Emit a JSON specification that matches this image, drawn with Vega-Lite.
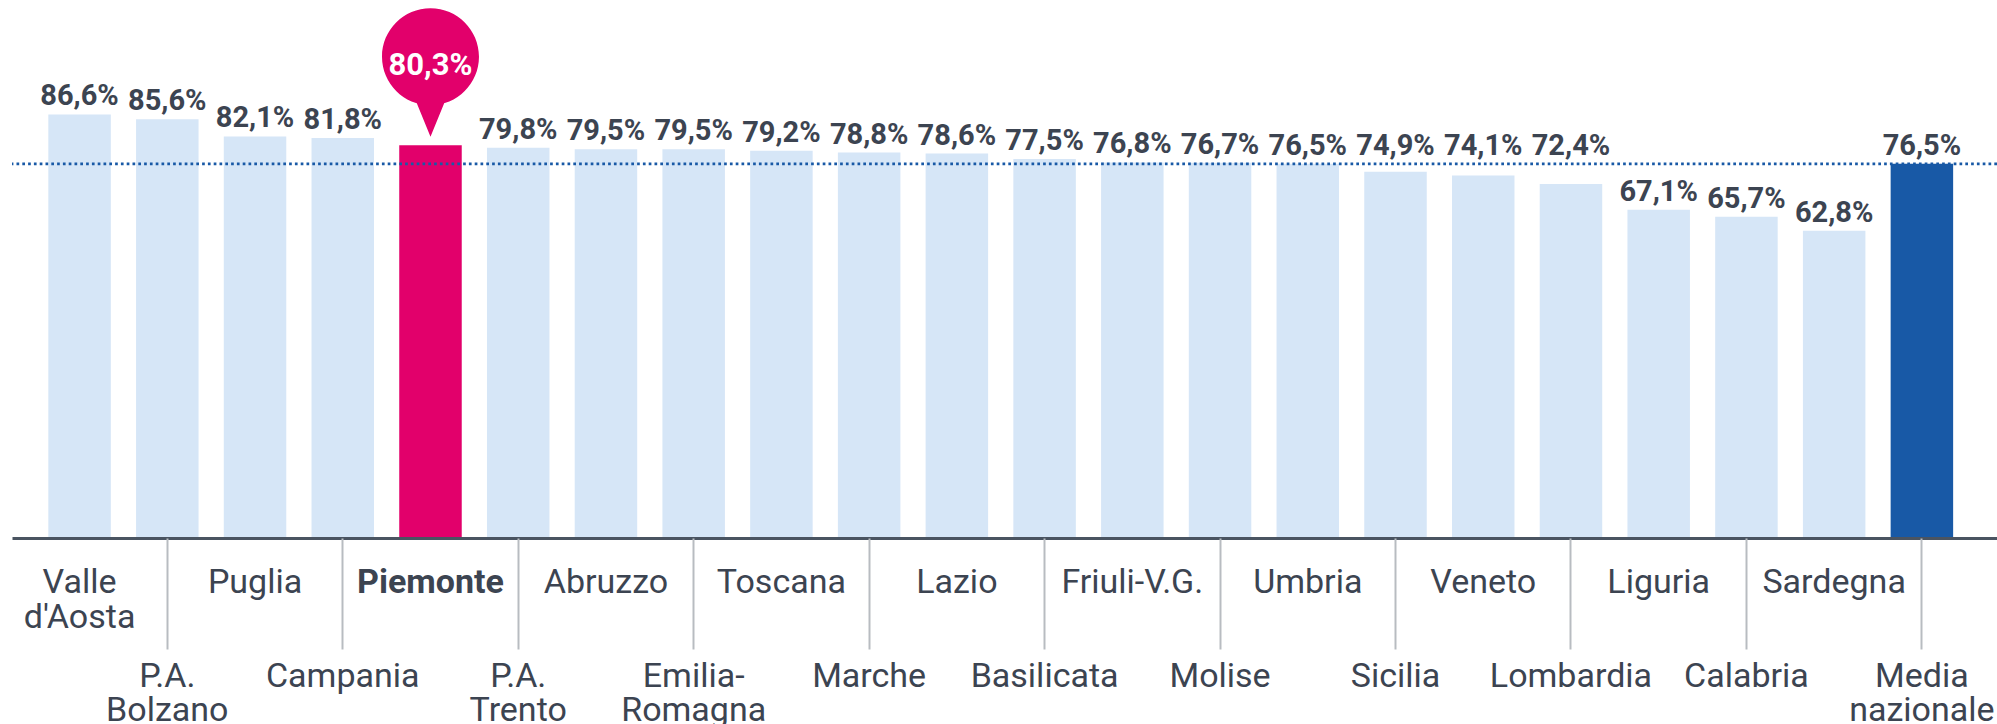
{
  "$schema": "https://vega.github.io/schema/vega-lite/v6.json",
  "width": 1985,
  "height": 538,
  "autosize": {"type": "none"},
  "padding": {"left": 12, "top": 0, "right": 0, "bottom": 186},
  "background": "#ffffff",
  "config": {"view": {"stroke": null}},
  "data": {
    "values": [
      {"regione": "Valle d'Aosta", "valore": 86.6, "label": "86,6%", "gruppo": "regione"},
      {"regione": "P.A. Bolzano", "valore": 85.6, "label": "85,6%", "gruppo": "regione"},
      {"regione": "Puglia", "valore": 82.1, "label": "82,1%", "gruppo": "regione"},
      {"regione": "Campania", "valore": 81.8, "label": "81,8%", "gruppo": "regione"},
      {"regione": "Piemonte", "valore": 80.3, "label": "80,3%", "gruppo": "piemonte"},
      {"regione": "P.A. Trento", "valore": 79.8, "label": "79,8%", "gruppo": "regione"},
      {"regione": "Abruzzo", "valore": 79.5, "label": "79,5%", "gruppo": "regione"},
      {"regione": "Emilia-Romagna", "valore": 79.5, "label": "79,5%", "gruppo": "regione"},
      {"regione": "Toscana", "valore": 79.2, "label": "79,2%", "gruppo": "regione"},
      {"regione": "Marche", "valore": 78.8, "label": "78,8%", "gruppo": "regione"},
      {"regione": "Lazio", "valore": 78.6, "label": "78,6%", "gruppo": "regione"},
      {"regione": "Basilicata", "valore": 77.5, "label": "77,5%", "gruppo": "regione"},
      {"regione": "Friuli-V.G.", "valore": 76.8, "label": "76,8%", "gruppo": "regione"},
      {"regione": "Molise", "valore": 76.7, "label": "76,7%", "gruppo": "regione"},
      {"regione": "Umbria", "valore": 76.5, "label": "76,5%", "gruppo": "regione"},
      {"regione": "Sicilia", "valore": 74.9, "label": "74,9%", "gruppo": "regione"},
      {"regione": "Veneto", "valore": 74.1, "label": "74,1%", "gruppo": "regione"},
      {"regione": "Lombardia", "valore": 72.4, "label": "72,4%", "gruppo": "regione"},
      {"regione": "Liguria", "valore": 67.1, "label": "67,1%", "gruppo": "regione"},
      {"regione": "Calabria", "valore": 65.7, "label": "65,7%", "gruppo": "regione"},
      {"regione": "Sardegna", "valore": 62.8, "label": "62,8%", "gruppo": "regione"},
      {"regione": "Media nazionale", "valore": 76.5, "label": "76,5%", "gruppo": "media"}
    ]
  },
  "encoding": {
    "y": {
      "field": "valore",
      "type": "quantitative",
      "scale": {"domain": [0, 110], "nice": false, "zero": true},
      "axis": null
    }
  },
  "resolve": {"axis": {"x": "independent"}},
  "layer": [
    {
      "mark": {"type": "bar"},
      "encoding": {
        "x": {
          "field": "regione", "type": "nominal", "sort": null,
          "scale": {"paddingInner": 0.2876, "paddingOuter": 0.457, "align": 0.453},
          "axis": {
            "orient": "bottom",
            "zindex": 1,
            "title": null,
            "values": ["Valle d'Aosta", "Puglia", "Piemonte", "Abruzzo", "Toscana", "Lazio", "Friuli-V.G.", "Umbria", "Veneto", "Liguria", "Sardegna"],
            "labelAngle": 0,
            "labelOverlap": false,
            "labelBound": false,
            "labelFlush": false,
            "labelFont": "Roboto",
            "labelFontSize": 34,
            "labelColor": "#3c4451",
            "labelBaseline": "top",
            "labelLineHeight": 34.5,
            "labelPadding": 27.7,
            "labelExpr": "split(datum.value, ' ')",
            "labelFontWeight": {"condition": {"test": "datum.value == 'Piemonte'", "value": "bold"}, "value": "normal"},
            "domain": true,
            "domainColor": "#4a5461",
            "domainWidth": 3,
            "ticks": false,
            "grid": false
          }
        },
        "color": {
          "field": "gruppo",
          "type": "nominal",
          "scale": {"domain": ["regione", "piemonte", "media"], "range": ["#d6e6f7", "#e2006b", "#1859a6"]},
          "legend": null
        }
      }
    },
    {
      "transform": [{"filter": "datum.gruppo == 'media'"}],
      "mark": {"type": "rule", "color": "#1859a6", "strokeWidth": 2.7, "strokeDash": [2.7, 3.1]},
      "encoding": {}
    },
    {
      "transform": [{"filter": "datum.gruppo != 'piemonte' && !(datum.valore > 70 && datum.valore < 76.5)"}],
      "mark": {"type": "text", "font": "Roboto", "fontWeight": "bold", "fontSize": 29, "color": "#3c4451", "baseline": "alphabetic", "dy": -9},
      "encoding": {
        "x": {
          "field": "regione", "type": "nominal", "sort": null,
          "scale": {"paddingInner": 0.2876, "paddingOuter": 0.457, "align": 0.453},
          "axis": {
            "orient": "bottom",
            "zindex": 1,
            "title": null,
            "values": ["P.A. Bolzano", "Campania", "P.A. Trento", "Emilia-Romagna", "Marche", "Basilicata", "Molise", "Sicilia", "Lombardia", "Calabria", "Media nazionale"],
            "labelAngle": 0,
            "labelOverlap": false,
            "labelBound": false,
            "labelFlush": false,
            "labelFont": "Roboto",
            "labelFontSize": 34,
            "labelColor": "#3c4451",
            "labelBaseline": "top",
            "labelLineHeight": 34.5,
            "labelPadding": 10,
            "labelExpr": "datum.value == 'Emilia-Romagna' ? ['Emilia-', 'Romagna'] : split(datum.value, ' ')",
            "domain": false,
            "ticks": true,
            "tickColor": "#b8bcc1",
            "tickWidth": 2,
            "tickSize": 111,
            "grid": false
          }
        },
        "text": {"field": "label"}
      }
    },
    {
      "transform": [{"filter": "datum.valore > 70 && datum.valore < 76.5"}],
      "mark": {"type": "text", "font": "Roboto", "fontWeight": "bold", "fontSize": 29, "color": "#3c4451", "baseline": "alphabetic", "dy": -9},
      "encoding": {
        "x": {"field": "regione", "type": "nominal", "sort": null,
          "scale": {"paddingInner": 0.2876, "paddingOuter": 0.457, "align": 0.453}, "axis": null},
        "y": {"datum": 76.5, "type": "quantitative"},
        "text": {"field": "label"}
      }
    },
    {
      "transform": [{"filter": "datum.gruppo == 'piemonte'"}],
      "mark": {"type": "point", "filled": true, "opacity": 1, "color": "#e2006b", "strokeWidth": 0, "size": 16900, "yOffset": -73,
        "shape": "M-0.746,-0.238A0.746,0.746,0,1,1,0.746,-0.238A0.746,0.746,0,1,1,-0.746,-0.238ZM-0.283,0.3L0.283,0.3L0,0.992Z"},
      "encoding": {
        "x": {"field": "regione", "type": "nominal", "sort": null,
          "scale": {"paddingInner": 0.2876, "paddingOuter": 0.457, "align": 0.453}, "axis": null}
      }
    },
    {
      "transform": [{"filter": "datum.gruppo == 'piemonte'"}],
      "mark": {"type": "text", "font": "Roboto", "fontWeight": "bold", "fontSize": 31, "color": "#ffffff", "baseline": "alphabetic", "dy": -70.5},
      "encoding": {
        "x": {"field": "regione", "type": "nominal", "sort": null,
          "scale": {"paddingInner": 0.2876, "paddingOuter": 0.457, "align": 0.453}, "axis": null},
        "text": {"field": "label"}
      }
    }
  ]
}
